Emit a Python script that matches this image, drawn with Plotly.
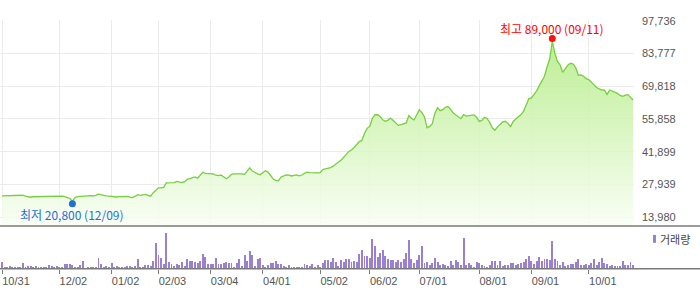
import pandas as pd
import plotly.graph_objects as go

# ---------------- data ----------------
holidays = ["2024-12-25", "2024-12-31", "2025-01-01", "2025-01-27", "2025-01-28",
            "2025-01-29", "2025-01-30", "2025-03-03", "2025-05-01", "2025-05-05",
            "2025-05-06", "2025-06-03", "2025-06-06", "2025-08-15", "2025-10-03",
            "2025-10-06", "2025-10-07", "2025-10-08", "2025-10-09"]
days = pd.bdate_range("2024-10-31", "2025-10-31")
dates = [d.strftime("%Y-%m-%d") for d in days if d.strftime("%Y-%m-%d") not in holidays]

price = [
    23070, 23110, 23030, 23070, 23190, 23110, 23280, 23440, 23360, 22940,
    22650, 22520, 22730, 22770, 22820, 22770, 22860, 22900, 22820, 22980,
    23070, 23110, 23070, 23030, 22820, 22440, 22020, 20800, 22360, 22770,
    22900, 22980, 23070, 23150, 23190, 23110, 23280, 23820, 23530, 23190,
    23070, 23030, 22860, 22520, 22610, 22770, 22860, 22940, 22860, 22610,
    22360, 22860, 23610, 23280, 23360, 23740, 23280, 22940, 24450, 25700,
    26540, 26540, 26750, 28630, 28720, 28630, 28720, 29260, 28890, 28720,
    29140, 30180, 30480, 30730, 31150, 30650, 31780, 33160, 32700, 32530,
    32610, 32490, 31900, 31740, 31990, 31360, 30400, 31150, 32240, 32450,
    32530, 32570, 32490, 32280, 33870, 35050, 33660, 32910, 32490, 32120,
    33040, 33790, 33240, 31780, 30310, 29680, 29560, 31150, 31780, 32070,
    31900, 31570, 31820, 32070, 31650, 31990, 32740, 33240, 32990, 32910,
    32990, 32910, 32990, 34290, 34580, 34710, 35130, 35760, 36810, 37520,
    38270, 39320, 40780, 42040, 42670, 43710, 44970, 46230, 46730, 49790,
    51880, 52720, 56070, 57660, 57660, 56910, 55520, 54890, 55350, 56280,
    55230, 54180, 53140, 53430, 53890, 54180, 57320, 56070, 55440, 57960,
    59750, 58580, 56700, 52090, 52720, 53890, 58370, 60670, 59420, 59840,
    60880, 61180, 60050, 58370, 57620, 56910, 55990, 57750, 57120, 57330,
    57540, 57620, 56490, 54810, 55230, 56570, 56070, 54400, 52090, 51050,
    52510, 53770, 54600, 54890, 53970, 52590, 54810, 55860, 56700, 57750,
    59210, 61930, 64440, 64860, 66120, 67790, 70090, 72400, 74060, 78060,
    81400, 89000, 83710, 80360, 78890, 75750, 77430, 78890, 79600, 79310,
    77630, 74490, 74620, 74060, 73030, 72610, 71560, 70220, 69260, 68710,
    68210, 68130, 66330, 68210, 67790, 67370, 66750, 65910, 65490, 66030,
    66250, 65070, 63940,
]

volume = [
    350, 50, 100, 150, 50, 50, 100, 100, 300, 100,
    150, 150, 100, 150, 100, 100, 50, 100, 200, 150,
    100, 150, 50, 100, 250, 250, 250, 200, 100, 100,
    200, 400, 25, 100, 100, 100, 100, 550, 250, 100,
    150, 100, 300, 100, 150, 100, 50, 100, 150, 150,
    100, 150, 500, 100, 100, 200, 200, 150, 400, 1300,
    700, 550, 250, 1800, 350, 250, 150, 250, 200, 350,
    150, 500, 400, 400, 350, 300, 400, 750, 600, 250,
    250, 250, 550, 250, 250, 300, 350, 300, 300, 100,
    300, 500, 150, 700, 400, 900, 700, 150, 500, 550,
    200, 100, 200, 300, 300, 400, 250, 250, 150, 100,
    200, 100, 50, 100, 100, 100, 250, 200, 150, 250, 100,
    200, 100, 300, 450, 450, 350, 550, 350, 150, 450,
    350, 500, 500, 350, 400, 350, 750, 950, 650, 650,
    550, 1500, 1150, 600, 800, 950, 650, 500, 450, 450,
    350, 450, 350, 500, 800, 1450, 500, 300, 450, 700,
    1150, 300, 350, 200, 300, 550, 350, 200, 250, 200,
    150, 400, 200, 450, 350, 200, 1550, 200, 300, 200,
    100, 350, 300, 200, 150, 100, 200, 400, 400, 200,
    400, 150, 200, 200, 300, 300, 200, 250, 300, 350,
    500, 650, 400, 250, 400, 600, 400, 500, 500, 450,
    1400, 500, 400, 200, 350, 150, 200, 250, 250, 350,
    500, 200, 200, 250, 200, 300, 500, 200, 350, 550,
    300, 250, 150, 200, 150, 150, 150, 400, 200, 200, 350, 200,
]

tick_dates = ["2024-10-31", "2024-12-02", "2025-01-02", "2025-02-03", "2025-03-04",
              "2025-04-01", "2025-05-02", "2025-06-02", "2025-07-01", "2025-08-01",
              "2025-09-01", "2025-10-01"]
tick_labels = [d[5:7] + "/" + d[8:10] for d in tick_dates]

price_ticks = [13980, 27939, 41899, 55858, 69818, 83777, 97736]

hi_idx = price.index(max(price))
lo_idx = price.index(min(price))
hi_val, lo_val = price[hi_idx], price[lo_idx]

# ---------------- layout constants ----------------
W, H = 700, 289
def py(p):
    return 1 - p / H

px_per_val = (97736 - 13980) / 200.0
y_top = 97736 + 1 * px_per_val
y_bot = 13980 - 9 * px_per_val
x_lo, x_hi = -0.767, 242.33
vol_max = 43.3 * 50

LINE = "#76cf3c"
BAR = "#9a80d2"
GRID = "#ebebeb"
AX = "#7a7a7a"
TXT = "#555555"

fig = go.Figure()
fig.add_trace(go.Scatter(
    x=dates, y=price, mode="lines", xaxis="x", yaxis="y",
    line=dict(color=LINE, width=1.3),
    fill="tozeroy",
    fillgradient=dict(type="vertical", start=y_bot, stop=hi_val,
                      colorscale=[[0, "rgba(250,255,246,0.85)"], [1, "rgba(178,235,130,0.85)"]]),
    hoverinfo="x+y",
))
fig.add_trace(go.Bar(
    x=dates, y=volume, xaxis="x2", yaxis="y2",
    marker=dict(color=BAR, line=dict(width=0)), width=0.36,
))

fig.update_layout(
    width=W, height=H, margin=dict(l=0, r=0, t=0, b=0),
    paper_bgcolor="white", plot_bgcolor="white", showlegend=False,
    bargap=0,
    xaxis=dict(type="category", domain=[0, 634 / W], range=[x_lo, x_hi], anchor="y",
               tickvals=tick_dates, showticklabels=False, showgrid=True,
               gridcolor=GRID, gridwidth=1, ticks="", zeroline=False, showline=False),
    yaxis=dict(domain=[py(225), py(15)], range=[y_bot, y_top], side="right", anchor="x",
               tickvals=price_ticks, ticktext=[f"{v:,}" for v in price_ticks],
               showgrid=True, gridcolor=GRID, gridwidth=1, zeroline=False, showline=False,
               ticks="", ticklabelstandoff=7,
               tickfont=dict(family="Liberation Sans", size=11, color=TXT)),
    xaxis2=dict(type="category", domain=[0, 634 / W], range=[x_lo, x_hi], anchor="y2",
                tickvals=tick_dates, ticktext=tick_labels, showgrid=False,
                ticks="outside", ticklen=4, tickcolor=AX, tickwidth=1,
                ticklabelshift=14, ticklabelstandoff=-2,
                tickfont=dict(family="Liberation Sans", size=11, color=TXT),
                zeroline=False, showline=False),
    yaxis2=dict(domain=[py(268.3), py(225)], range=[0, vol_max], anchor="x2",
                showgrid=False, showticklabels=False, zeroline=False, showline=False, ticks=""),
)

shapes = [
    dict(type="line", xref="paper", yref="paper", x0=0, x1=1, y0=py(225), y1=py(225),
         line=dict(color=AX, width=1.5)),
    dict(type="line", xref="paper", yref="paper", x0=0, x1=1, y0=py(268.3), y1=py(268.3),
         line=dict(color=AX, width=1.5)),
    dict(type="rect", xref="paper", yref="paper", x0=653 / W, x1=656 / W,
         y0=py(242), y1=py(234), fillcolor=BAR, line=dict(width=0)),
    dict(type="circle", xref="x", yref="y", xsizemode="pixel", ysizemode="pixel",
         xanchor=hi_idx, yanchor=hi_val, x0=-3.5, x1=3.5, y0=-0.9, y1=6.1,
         fillcolor="#ff1010", line=dict(width=0)),
    dict(type="circle", xref="x", yref="y", xsizemode="pixel", ysizemode="pixel",
         xanchor=lo_idx, yanchor=lo_val, x0=-3.5, x1=3.5, y0=-6.1, y1=0.9,
         fillcolor="#1f6fd8", line=dict(width=0)),
]
fig.update_layout(shapes=shapes)

KFONT = "Noto Sans CJK KR"
annotations = [
    dict(xref="x", yref="y", x=hi_idx, y=hi_val, yshift=13, showarrow=False,
         text=f"최고 {hi_val:,} ({dates[hi_idx][5:7]}/{dates[hi_idx][8:10]})",
         font=dict(family=KFONT, size=12, color="#ff0000"), xanchor="center", yanchor="middle"),
    dict(xref="x", yref="y", x=lo_idx, y=lo_val, yshift=-13, showarrow=False,
         text=f"최저 {lo_val:,} ({dates[lo_idx][5:7]}/{dates[lo_idx][8:10]})",
         font=dict(family=KFONT, size=12, color="#1f6fd8"), xanchor="center", yanchor="middle"),
    dict(xref="paper", yref="paper", x=658 / W, y=py(238), showarrow=False,
         text="거래량", font=dict(family=KFONT, size=11, color="#444444"),
         xanchor="left", yanchor="middle"),
]
fig.update_layout(annotations=annotations)

fig.write_html("out.html")
